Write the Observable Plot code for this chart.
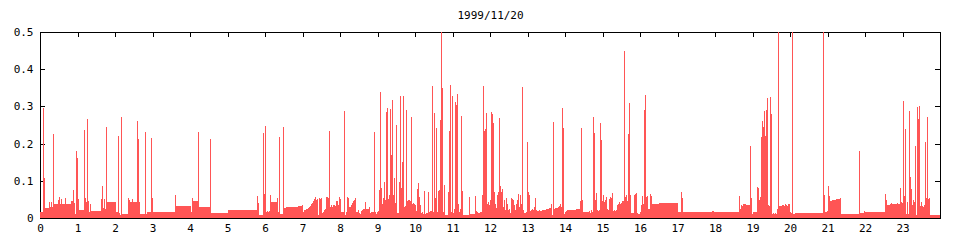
<!DOCTYPE html>
<html><head><meta charset="utf-8">
<script src="https://cdn.jsdelivr.net/npm/d3@7"></script>
<script src="https://cdn.jsdelivr.net/npm/@observablehq/plot@0.6"></script>
<style>body{margin:0;background:#fff} svg{shape-rendering:crispEdges}</style>
</head><body><div id="chart"></div>
<script>
const title = "1999/11/20";

// start hour of each step and its value (step holds until next start)
const hours = [
  0, 0.080, 0.107, 0.133, 0.240, 0.267, 0.293, 0.320, 0.347, 0.373,
  0.480, 0.507, 0.533, 0.560, 0.587, 0.667, 0.693, 0.827, 0.880, 0.907,
  0.933, 0.960, 0.987, 1.013, 1.040, 1.173, 1.200, 1.227, 1.253, 1.280,
  1.307, 1.333, 1.360, 1.627, 1.653, 1.680, 1.707, 1.733, 1.760, 1.787,
  2.027, 2.080, 2.107, 2.133, 2.160, 2.187, 2.347, 2.373, 2.400, 2.453,
  2.480, 2.587, 2.613, 2.640, 2.667, 2.800, 2.827, 2.853, 2.960, 2.987,
  3.013, 3.600, 3.627, 4.027, 4.053, 4.080, 4.213, 4.240, 4.533, 4.560,
  5.013, 5.787, 5.813, 5.840, 5.947, 5.973, 6.000, 6.027, 6.053, 6.080,
  6.107, 6.133, 6.160, 6.320, 6.347, 6.373, 6.400, 6.427, 6.453, 6.480,
  6.507, 6.560, 6.880, 6.987, 7.013, 7.040, 7.093, 7.147, 7.173, 7.200,
  7.227, 7.253, 7.280, 7.307, 7.333, 7.360, 7.387, 7.413, 7.440, 7.467,
  7.493, 7.520, 7.547, 7.573, 7.600, 7.627, 7.680, 7.707, 7.733, 7.760,
  7.787, 7.813, 7.867, 7.893, 7.947, 7.973, 8.000, 8.027, 8.107, 8.133,
  8.160, 8.187, 8.213, 8.240, 8.293, 8.320, 8.347, 8.373, 8.400, 8.427,
  8.480, 8.507, 8.533, 8.560, 8.587, 8.613, 8.667, 8.693, 8.773, 8.800,
  8.827, 8.907, 8.933, 8.960, 8.987, 9.013, 9.040, 9.067, 9.093, 9.120,
  9.147, 9.173, 9.200, 9.227, 9.253, 9.280, 9.307, 9.333, 9.360, 9.387,
  9.413, 9.440, 9.467, 9.493, 9.520, 9.573, 9.600, 9.627, 9.653, 9.680,
  9.707, 9.733, 9.760, 9.787, 9.813, 9.867, 9.893, 9.920, 9.947, 9.973,
  10.000, 10.027, 10.053, 10.080, 10.107, 10.133, 10.160, 10.187, 10.213, 10.240,
  10.267, 10.293, 10.347, 10.373, 10.400, 10.453, 10.480, 10.507, 10.533, 10.560,
  10.587, 10.613, 10.640, 10.667, 10.693, 10.720, 10.747, 10.773, 10.800, 10.880,
  10.907, 10.933, 10.960, 10.987, 11.013, 11.040, 11.067, 11.093, 11.120, 11.147,
  11.173, 11.200, 11.227, 11.253, 11.280, 11.440, 11.467, 11.600, 11.627, 11.653,
  11.680, 11.733, 11.787, 11.813, 11.840, 11.867, 11.893, 11.920, 11.947, 11.973,
  12.000, 12.027, 12.053, 12.080, 12.107, 12.133, 12.160, 12.187, 12.213, 12.240,
  12.267, 12.293, 12.320, 12.347, 12.373, 12.400, 12.427, 12.453, 12.480, 12.507,
  12.533, 12.560, 12.587, 12.613, 12.640, 12.667, 12.693, 12.720, 12.747, 12.773,
  12.800, 12.827, 12.853, 12.880, 12.907, 12.960, 12.987, 13.013, 13.040, 13.067,
  13.093, 13.120, 13.147, 13.173, 13.200, 13.227, 13.253, 13.307, 13.333, 13.387,
  13.493, 13.573, 13.627, 13.653, 13.680, 13.707, 13.733, 13.813, 13.840, 13.867,
  13.893, 13.920, 13.947, 13.973, 14.000, 14.027, 14.053, 14.293, 14.400, 14.427,
  14.453, 14.480, 14.640, 14.667, 14.693, 14.720, 14.747, 14.773, 14.800, 14.827,
  14.853, 14.880, 14.907, 14.933, 14.960, 14.987, 15.013, 15.040, 15.067, 15.093,
  15.120, 15.147, 15.173, 15.200, 15.227, 15.253, 15.280, 15.307, 15.333, 15.360,
  15.387, 15.413, 15.440, 15.467, 15.493, 15.520, 15.573, 15.600, 15.627, 15.653,
  15.680, 15.707, 15.733, 15.760, 15.840, 15.867, 15.893, 15.920, 15.947, 16.000,
  16.027, 16.053, 16.080, 16.107, 16.133, 16.160, 16.187, 16.213, 16.267, 16.293,
  16.320, 16.507, 17.013, 17.093, 17.120, 17.147, 17.920, 17.973, 18.640, 18.667,
  18.693, 18.720, 18.747, 18.827, 18.933, 18.960, 18.987, 19.013, 19.120, 19.147,
  19.173, 19.200, 19.227, 19.253, 19.280, 19.307, 19.333, 19.360, 19.387, 19.413,
  19.440, 19.467, 19.493, 19.520, 19.547, 19.573, 19.600, 19.627, 19.653, 19.680,
  19.707, 19.787, 19.840, 19.867, 19.893, 19.920, 19.947, 20.000, 20.027, 20.053,
  20.080, 20.133, 20.880, 20.907, 20.933, 20.987, 21.013, 21.040, 21.067, 21.120,
  21.227, 21.333, 21.360, 21.840, 21.867, 21.973, 22.000, 22.533, 22.560, 22.587,
  22.667, 22.693, 22.720, 22.853, 22.880, 22.933, 22.960, 22.987, 23.013, 23.040,
  23.067, 23.093, 23.120, 23.147, 23.173, 23.200, 23.227, 23.253, 23.280, 23.307,
  23.333, 23.360, 23.387, 23.413, 23.440, 23.467, 23.493, 23.520, 23.547, 23.573,
  23.600, 23.627, 23.653, 23.680, 23.707, 23.733
];
const values = [
  0.016, 0.297, 0.108, 0.027, 0.043, 0.029, 0.043, 0.029, 0.227, 0.038,
  0.049, 0.057, 0.038, 0.050, 0.038, 0.054, 0.038, 0.046, 0.076, 0.040,
  0.011, 0.181, 0.162, 0.051, 0.022, 0.237, 0.054, 0.043, 0.267, 0.046,
  0.016, 0.038, 0.019, 0.051, 0.086, 0.027, 0.051, 0.024, 0.245, 0.043,
  0.016, 0.221, 0.013, 0.008, 0.272, 0.011, 0.054, 0.049, 0.043, 0.051,
  0.043, 0.262, 0.213, 0.043, 0.010, 0.230, 0.012, 0.015, 0.215, 0.053,
  0.016, 0.061, 0.031, 0.015, 0.053, 0.045, 0.231, 0.029, 0.212, 0.013,
  0.021, 0.058, 0.040, 0.007, 0.228, 0.064, 0.247, 0.015, 0.018, 0.015,
  0.018, 0.061, 0.042, 0.053, 0.015, 0.217, 0.012, 0.010, 0.012, 0.245,
  0.026, 0.029, 0.031, 0.034, 0.016, 0.022, 0.024, 0.027, 0.030, 0.033,
  0.037, 0.041, 0.045, 0.050, 0.057, 0.049, 0.051, 0.008, 0.054, 0.051,
  0.054, 0.013, 0.016, 0.022, 0.024, 0.057, 0.054, 0.235, 0.030, 0.035,
  0.030, 0.035, 0.032, 0.046, 0.035, 0.057, 0.051, 0.015, 0.288, 0.007,
  0.015, 0.056, 0.053, 0.029, 0.034, 0.040, 0.045, 0.048, 0.053, 0.015,
  0.021, 0.013, 0.010, 0.018, 0.021, 0.023, 0.042, 0.023, 0.029, 0.013,
  0.015, 0.231, 0.015, 0.010, 0.015, 0.018, 0.075, 0.339, 0.080, 0.037,
  0.053, 0.096, 0.048, 0.285, 0.296, 0.050, 0.061, 0.293, 0.169, 0.317,
  0.061, 0.107, 0.040, 0.250, 0.013, 0.096, 0.328, 0.080, 0.150, 0.328,
  0.029, 0.031, 0.290, 0.045, 0.048, 0.045, 0.271, 0.037, 0.040, 0.037,
  0.034, 0.018, 0.077, 0.093, 0.056, 0.034, 0.013, 0.015, 0.010, 0.072,
  0.010, 0.013, 0.069, 0.015, 0.018, 0.355, 0.015, 0.282, 0.053, 0.242,
  0.015, 0.072, 0.075, 0.263, 0.500, 0.350, 0.015, 0.088, 0.007, 0.069,
  0.234, 0.358, 0.015, 0.328, 0.013, 0.023, 0.312, 0.304, 0.333, 0.037,
  0.015, 0.023, 0.274, 0.072, 0.007, 0.056, 0.010, 0.058, 0.018, 0.015,
  0.013, 0.015, 0.061, 0.355, 0.234, 0.239, 0.282, 0.037, 0.042, 0.034,
  0.048, 0.285, 0.280, 0.255, 0.069, 0.037, 0.026, 0.061, 0.069, 0.269,
  0.085, 0.069, 0.077, 0.029, 0.048, 0.021, 0.053, 0.037, 0.021, 0.023,
  0.013, 0.053, 0.050, 0.048, 0.034, 0.021, 0.037, 0.048, 0.064, 0.029,
  0.061, 0.037, 0.352, 0.021, 0.013, 0.015, 0.204, 0.069, 0.061, 0.018,
  0.021, 0.023, 0.021, 0.029, 0.053, 0.021, 0.018, 0.021, 0.018, 0.021,
  0.023, 0.026, 0.037, 0.007, 0.258, 0.023, 0.026, 0.029, 0.031, 0.037,
  0.029, 0.296, 0.242, 0.010, 0.015, 0.018, 0.021, 0.023, 0.045, 0.242,
  0.048, 0.015, 0.018, 0.013, 0.021, 0.015, 0.271, 0.228, 0.048, 0.067,
  0.021, 0.018, 0.021, 0.255, 0.209, 0.045, 0.061, 0.042, 0.048, 0.056,
  0.023, 0.021, 0.050, 0.056, 0.053, 0.067, 0.018, 0.021, 0.018, 0.021,
  0.034, 0.037, 0.042, 0.037, 0.040, 0.045, 0.449, 0.056, 0.061, 0.045,
  0.226, 0.309, 0.061, 0.013, 0.061, 0.064, 0.067, 0.013, 0.010, 0.015,
  0.034, 0.058, 0.037, 0.290, 0.331, 0.056, 0.058, 0.023, 0.064, 0.058,
  0.037, 0.040, 0.015, 0.069, 0.053, 0.015, 0.018, 0.015, 0.058, 0.023,
  0.034, 0.031, 0.037, 0.034, 0.193, 0.053, 0.010, 0.015, 0.083, 0.080,
  0.048, 0.056, 0.218, 0.261, 0.244, 0.288, 0.220, 0.290, 0.323, 0.034,
  0.031, 0.325, 0.280, 0.010, 0.013, 0.010, 0.013, 0.010, 0.023, 0.500,
  0.031, 0.034, 0.031, 0.037, 0.034, 0.031, 0.037, 0.015, 0.013, 0.500,
  0.010, 0.013, 0.500, 0.061, 0.015, 0.018, 0.085, 0.058, 0.045, 0.048,
  0.050, 0.053, 0.010, 0.180, 0.013, 0.018, 0.015, 0.064, 0.048, 0.034,
  0.037, 0.040, 0.037, 0.040, 0.037, 0.080, 0.042, 0.040, 0.315, 0.058,
  0.239, 0.010, 0.042, 0.010, 0.288, 0.110, 0.077, 0.034, 0.048, 0.042,
  0.193, 0.007, 0.298, 0.266, 0.301, 0.031, 0.042, 0.031, 0.029, 0.034,
  0.204, 0.053, 0.271, 0.050, 0.053, 0.007
];
const xEnd = 24;
const xTicks = [0,1,2,3,4,5,6,7,8,9,10,11,12,13,14,15,16,17,18,19,20,21,22,23];
const yTicks = [0, 0.1, 0.2, 0.3, 0.4, 0.5];
const yTickLabels = ["0", "0.1", "0.2", "0.3", "0.4", "0.5"];

const data = hours.map((t, i) => ({t, v: values[i]}));
data.push({t: xEnd, v: values[values.length - 1]});

const W = 960, H = 240, mL = 40, mR = 20, mT = 32, mB = 22;
const innerW = W - mL - mR, innerH = H - mT - mB;
const tk = 5;
const red = "#ff5555";

const chart = Plot.plot({
  width: W, height: H,
  marginLeft: mL, marginRight: mR, marginTop: mT, marginBottom: mB,
  style: {fontFamily: "DejaVu Sans Mono, monospace", fontSize: "11px", color: "black", background: "white"},
  x: {domain: [0, xEnd]},
  y: {domain: [0, 0.5]},
  marks: [
    Plot.frame({stroke: "black"}),
    Plot.tickX(xTicks, {x: d => d, insetBottom: innerH - tk, stroke: "black"}),
    Plot.tickX(xTicks, {x: d => d, insetTop: innerH - tk, stroke: "black"}),
    Plot.tickY(yTicks, {y: d => d, insetRight: innerW - tk, stroke: "black"}),
    Plot.tickY(yTicks, {y: d => d, insetLeft: innerW - tk, stroke: "black"}),
    Plot.areaY(data, {x: "t", y: "v", curve: "step-after", fill: red}),
    Plot.axisX({ticks: xTicks, tickSize: 0, tickPadding: 6, tickFormat: d => String(d), label: null, fontSize: 11}),
    Plot.axisY({ticks: yTicks, tickSize: 0, tickPadding: 7, tickFormat: d => yTickLabels[yTicks.indexOf(d)], label: null, fontSize: 11}),
    Plot.text([title], {frameAnchor: "top", dy: -14, lineAnchor: "bottom", text: d => d, fontSize: 11})
  ]
});
document.getElementById("chart").appendChild(chart);
</script>
</body></html>
